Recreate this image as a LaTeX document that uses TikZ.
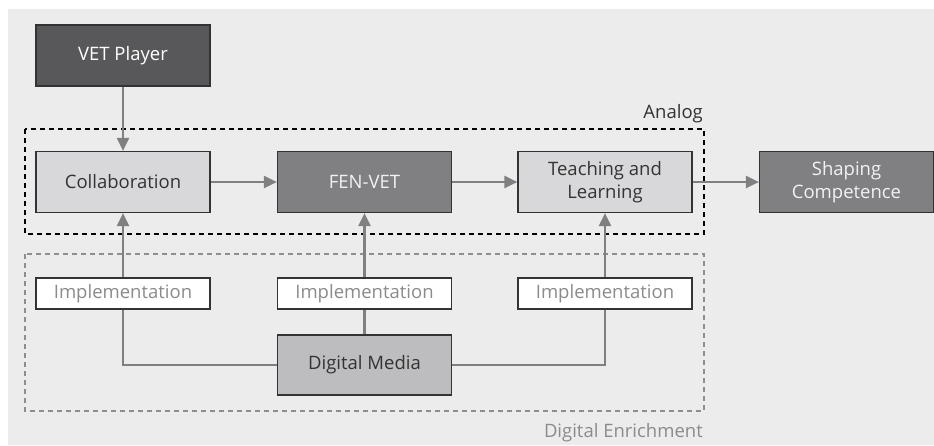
\documentclass[tikz,border=0pt]{standalone}
\usepackage{fontspec}
\setmainfont{Open Sans}
\usetikzlibrary{arrows.meta}
\definecolor{bgc}{HTML}{ECECEC}
\definecolor{boxline}{HTML}{333333}
\definecolor{darkfill}{HTML}{58585A}
\definecolor{midfill}{HTML}{808083}
\definecolor{lightfill}{HTML}{D8D8DA}
\definecolor{mediafill}{HTML}{BDBDBF}
\definecolor{connc}{HTML}{808083}
\definecolor{impltext}{HTML}{8B8B8D}
\definecolor{darktext}{HTML}{333333}
\definecolor{digc}{HTML}{8E8E90}
\begin{document}
\begin{tikzpicture}[x=1pt,y=-1pt,
  box/.style={draw=boxline, line width=1.2pt, minimum width=174pt, minimum height=61pt, inner sep=0pt, align=center, font=\fontsize{18.5}{23}\selectfont},
  darkbox/.style={box, fill=darkfill, text=white},
  midbox/.style={box, fill=midfill, text=white!95!black},
  lightbox/.style={box, fill=lightfill, text=darktext},
  implbox/.style={box, fill=white, text=impltext, minimum height=31pt},
  mediabox/.style={box, fill=mediafill, text=darktext, minimum height=60pt},
  conn/.style={draw=connc, line width=2.2pt},
  arr/.style={conn, -{Triangle[length=13pt,width=12pt]}},
  grouplabel/.style={inner sep=0pt, font=\fontsize{18.5}{23}\selectfont}
]
\useasboundingbox (0,0) rectangle (934,445);
\fill[bgc] (8,9) rectangle (934,445);

% group frames
\draw[black, line width=1.8pt, dash pattern=on 5pt off 4pt] (25,129) rectangle (704,234);
\draw[digc, line width=1.8pt, dash pattern=on 5pt off 4pt] (25,254) rectangle (704,411);
\node[grouplabel, anchor=base east, text=darktext] (analog) at (703,118) {Analog};
\node[grouplabel, anchor=base east, text=impltext] (digen) at (703,437) {Digital Enrichment};

% nodes
\node[darkbox] (vet) at (123,55.5) {VET Player};
\node[lightbox] (collab) at (123,182) {Collaboration};
\node[midbox] (fen) at (364.5,182) {FEN-VET};
\node[lightbox] (teach) at (605,182) {Teaching and\\Learning};
\node[midbox] (shape) at (846.5,182) {Shaping\\Competence};
\node[implbox] (impl1) at (123,293.5) {Implementation};
\node[implbox] (impl2) at (364.5,293.5) {Implementation};
\node[implbox] (impl3) at (605,293.5) {Implementation};
\node[mediabox] (media) at (364.5,365) {Digital Media};

% connectors
\draw[arr] (vet) -- (collab);
\draw[arr] (collab) -- (fen);
\draw[arr] (fen) -- (teach);
\draw[arr] (teach) -- (shape);
\draw[arr] (impl1) -- (collab);
\draw[arr] (impl2) -- (fen);
\draw[arr] (impl3) -- (teach);
\draw[conn] (impl1.south) |- (media.west);
\draw[conn] (media.east) -| (impl3.south);
\draw[conn] (media.north) -- (impl2.south);
\end{tikzpicture}
\end{document}
